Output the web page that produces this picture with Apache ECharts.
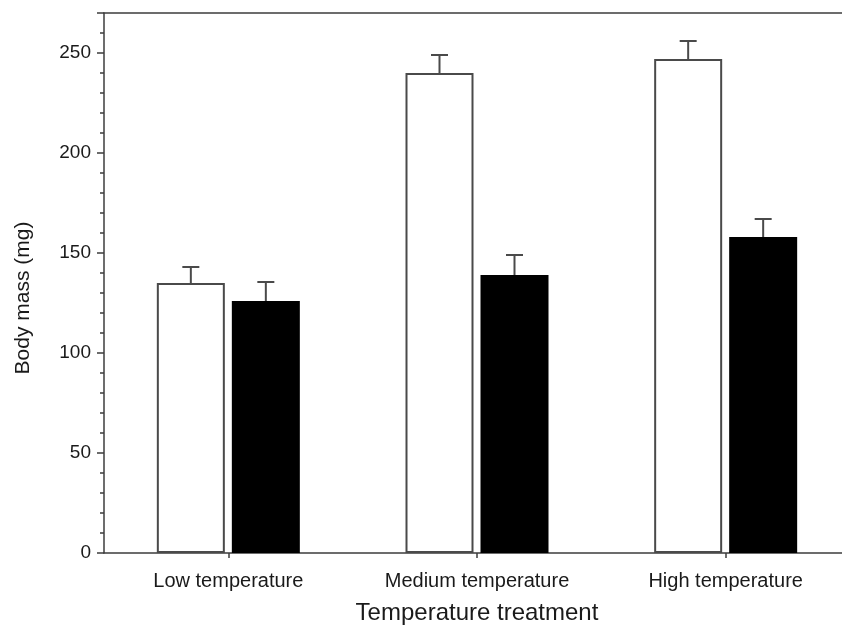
<!DOCTYPE html>
<html>
<head>
<meta charset="utf-8">
<script src="https://cdn.jsdelivr.net/npm/echarts@6/dist/echarts.min.js"></script>
<style>html,body{margin:0;padding:0;background:#fff;}#c{width:842px;height:625px;}</style>
</head>
<body>
<div id="c"></div>
<script>
const categories = ['Low temperature', 'Medium temperature', 'High temperature'];
const whiteMeans = [135, 240, 247];
const whiteErr = [8, 9, 9];
const blackMeans = [126, 139, 158];
const blackErr = [9.5, 10, 9];
const yTicks = [0, 50, 100, 150, 200, 250];

const BAR_W = 68, BAR_GAP = 7;
const AXIS_COLOR = '#3c3c3c';
const FONT = '"Liberation Sans", Arial, Helvetica, sans-serif';

function errSeries(means, errs, side) {
  return {
    type: 'custom',
    xAxisIndex: 0,
    yAxisIndex: 0,
    z: 3,
    data: means.map((m, i) => [i, m, m + errs[i]]),
    renderItem: function (params, api) {
      const off = side * (BAR_W + BAR_GAP) / 2;
      const p0 = api.coord([api.value(0), api.value(1)]);
      const p1 = api.coord([api.value(0), api.value(2)]);
      const x = p0[0] + off;
      const capHalf = 8.5;
      return {
        type: 'group',
        children: [
          { type: 'line', shape: { x1: x, y1: p0[1], x2: x, y2: p1[1] }, style: { stroke: '#4a4a4a', lineWidth: 2 } },
          { type: 'line', shape: { x1: x - capHalf, y1: p1[1], x2: x + capHalf, y2: p1[1] }, style: { stroke: '#4a4a4a', lineWidth: 2 } }
        ]
      };
    }
  };
}

const chart = echarts.init(document.getElementById('c'), null, { renderer: 'canvas' });
chart.setOption({
  animation: false,
  backgroundColor: '#fff',
  grid: { left: 104, width: 746, top: 13, height: 540, outerBoundsMode: 'none', containLabel: false },
  xAxis: [
    {
      type: 'category',
      data: categories,
      position: 'bottom',
      axisLine: { lineStyle: { color: AXIS_COLOR, width: 1.5 } },
      axisTick: { show: true, alignWithLabel: true, length: 5, lineStyle: { color: AXIS_COLOR, width: 1.5 } },
      axisLabel: { color: '#1a1a1a', fontSize: 20, fontFamily: FONT, margin: 18 },
      name: 'Temperature treatment',
      nameLocation: 'middle',
      nameGap: 48,
      nameTextStyle: { color: '#1a1a1a', fontSize: 24, fontFamily: FONT }
    },
    {
      type: 'category',
      data: categories,
      position: 'top',
      axisLine: { lineStyle: { color: AXIS_COLOR, width: 1.5 } },
      axisTick: { show: false },
      axisLabel: { show: false }
    }
  ],
  yAxis: {
    type: 'value',
    min: 0,
    max: 270,
    interval: 50,
    axisLine: { show: true, lineStyle: { color: AXIS_COLOR, width: 1.5 } },
    axisTick: { show: true, length: 7, lineStyle: { color: AXIS_COLOR, width: 1.5 } },
    minorTick: { show: true, splitNumber: 5, length: 4, lineStyle: { color: AXIS_COLOR, width: 1.5 } },
    splitLine: { show: false },
    axisLabel: {
      color: '#1a1a1a', fontSize: 19, fontFamily: FONT, margin: 13,
      formatter: v => (yTicks.indexOf(v) >= 0 ? String(v) : '')
    },
    name: 'Body mass (mg)',
    nameLocation: 'middle',
    nameGap: 70,
    nameTextStyle: { color: '#1a1a1a', fontSize: 21, fontFamily: FONT, padding: [0, 30, 0, 0] }
  },
  series: [
    {
      type: 'bar',
      data: whiteMeans,
      barWidth: BAR_W,
      barGap: (BAR_GAP / BAR_W * 100) + '%',
      itemStyle: { color: '#ffffff', borderColor: '#4a4a4a', borderWidth: 2 },
      z: 2
    },
    {
      type: 'bar',
      data: blackMeans,
      barWidth: BAR_W,
      itemStyle: { color: '#000000', borderColor: '#000000', borderWidth: 0 },
      z: 2
    },
    errSeries(whiteMeans, whiteErr, -1),
    errSeries(blackMeans, blackErr, 1)
  ]
});
</script>
</body>
</html>
